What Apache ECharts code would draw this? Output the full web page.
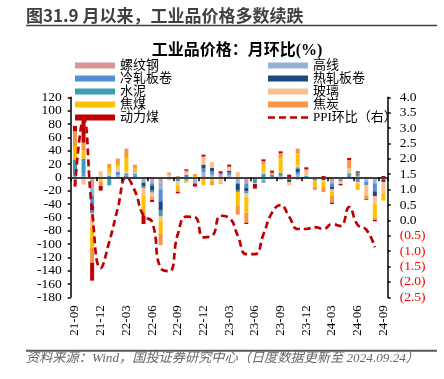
<!DOCTYPE html>
<html><head><meta charset="utf-8">
<script src="https://cdn.jsdelivr.net/npm/echarts/dist/echarts.min.js"></script>
<style>html,body{margin:0;padding:0;background:#fff;}#c{width:444px;height:379px;}</style>
</head><body><div id="c"></div>
<script>
var categories = ['21-09','21-10','21-11','21-12','22-01','22-02','22-03','22-04','22-05','22-06','22-07','22-08','22-09','22-10','22-11','22-12','23-01','23-02','23-03','23-04','23-05','23-06','23-07','23-08','23-09','23-10','23-11','23-12','24-01','24-02','24-03','24-04','24-05','24-06','24-07','24-08','24-09'];
var rebar    = [0,0,-15,-3,0,0,0,0,-4,-5,-8,1,2,0,-4,2,1,2,0,0,-7,0,0,0,0,0,0,0,0,0,-6,0,0,-2,-3,-2,0];
var wireRod  = [2,2,-12,1,0,3,0,-2,-4,-4,-10,0,-2,-3,-4,6,3,2,3,-8,-2,-2,-5,0,2,-2,4,0,0,0,-3,-3,0,2,-4,-7,0];
var coldRoll = [3,4,-15,0,2,2,3,3,0,-4,-18,0,0,-2,-2,5,5,2,4,-2,-7,0,-3,4,3,-2,4,0,0,0,-5,-3,3,-5,-5,-12,-3];
var hotRoll  = [0,0,-8,0,0,0,0,0,-5,-6,-14,0,0,0,0,6,5,0,3,-10,-5,0,0,0,0,-3,5,-2,0,-4,-4,0,-2,0,0,-7,-4];
var cement   = [22,22,-4,0,-12,3,3,2,-3,-4,-8,0,-4,4,0,0,0,0,0,-2,-3,-7,5,0,2,0,2,2,-5,0,0,0,3,5,0,0,0];
var glass    = [-13,-11,-22,8,5,8,3,3,-12,-6,-7,3,-5,4,0,12,9,-8,6,8,-5,-1,4,-3,-4,-5,3,8,-1,-3,-4,-4,8,-2,-15,-12,-17];
var cokingCoal = [20,12,-30,-4,7,4,20,5,-22,0,-19,0,-7,-3,2,-12,-6,-2,0,-20,-24,0,10,0,22,0,18,0,-8,-9,-6,0,0,-10,0,-20,-11];
var coke     = [22,12,-22,-6,6,8,14,6,-8,-5,-18,3,-4,2,3,0,-6,0,0,-14,-15,0,5,3,7,0,7,2,-5,-6,-10,0,12,0,-6,-4,0];
var thermalCoal = [8,36,-27,-7,0,-2,0,0,-12,-3,0,-3,-2,2,-4,3,0,3,3,0,-2,-7,3,3,3,4,-3,3,0,2,-2,-2,3,2,-1,-2,2];
var ppiMoM   = [1.1,3.3,0.3,-1.55,-0.7,0.4,1.4,0.95,0.15,-0.05,-1.55,-1.65,-0.45,0.12,0.1,-0.55,-0.5,0.15,0.08,-0.5,-1.1,-1.1,-0.45,0.25,0.5,0.12,-0.28,-0.28,-0.22,-0.28,-0.12,-0.18,0.43,-0.15,-0.3,-0.88,null];

var seriesNames = ['螺纹钢','高线','冷轧板卷','热轧板卷','水泥','玻璃','焦煤','焦炭','动力煤'];
var seriesData = [rebar, wireRod, coldRoll, hotRoll, cement, glass, cokingCoal, coke, thermalCoal];
var seriesColors = ['#D99694','#95B3D7','#558ED5','#1F497D','#3E9DB6','#FAC090','#FFC000','#F79646','#C00000'];
var lineName = 'PPI环比（右）';

var serif = '"Liberation Serif","Times New Roman","Noto Sans CJK SC",serif';
var chart = echarts.init(document.getElementById('c'), null, {renderer:'canvas'});
var series = seriesNames.map(function(n,i){
  return {name:n, type:'bar', stack:'all', data:seriesData[i], barWidth:4,
    itemStyle:{color:seriesColors[i]}, emphasis:{disabled:true}, xAxisIndex:0, yAxisIndex:0};
});
series.push({name:lineName, type:'line', data:ppiMoM, yAxisIndex:1, xAxisIndex:0, smooth:true,
  symbol:'none', lineStyle:{color:'#C00000', width:2.7, type:[7,4]}, itemStyle:{color:'#C00000'}, z:5});

var dashIcon = 'path://M0,0H7V2.6H0Z M11,0H18V2.6H11Z M22,0H29V2.6H22Z M33,0H40V2.6H33Z';
var legendText = {fontSize:13, lineHeight:13, color:'#000', fontFamily:serif, padding:[3,0,0,0]};
chart.setOption({
  animation:false,
  grid:{left:70.7, right:56.3, top:97.3, bottom:81.7, containLabel:false, outerBoundsMode:'none'},
  legend:[
    {data:['螺纹钢','冷轧板卷','水泥','焦煤','动力煤'], orient:'vertical', left:75, top:57.5, itemGap:-3,
     itemWidth:40, itemHeight:6, icon:'rect', padding:0, textStyle:legendText, selectedMode:false, z:10},
    {data:[{name:'高线',icon:'rect'},{name:'热轧板卷',icon:'rect'},{name:'玻璃',icon:'rect'},{name:'焦炭',icon:'rect'},
           {name:lineName, icon:dashIcon, itemStyle:{color:'#C00000'}}],
     orient:'vertical', left:268, top:57.5, itemGap:-3,
     itemWidth:40, itemHeight:6, padding:0, textStyle:legendText, selectedMode:false, z:10}
  ],
  xAxis:[
    {type:'category', data:categories, position:'bottom',
     axisLine:{show:false, onZero:false}, axisTick:{show:false}, splitLine:{show:false},
     axisLabel:{interval:2, rotate:90, margin:8, fontSize:13, color:'#000', fontFamily:serif}},
    {type:'category', data:categories, position:'bottom', z:6,
     axisLine:{show:true, onZero:true, onZeroAxisIndex:0, lineStyle:{color:'#404040', width:2}},
     axisTick:{show:true, interval:2, length:4, inside:false, lineStyle:{color:'#000', width:1.5}},
     axisLabel:{show:false}, splitLine:{show:false}}
  ],
  yAxis:[
    {type:'value', min:-180, max:120, interval:20, position:'left',
     axisLine:{show:true, lineStyle:{color:'#000', width:1.5}},
     axisTick:{show:true, length:3, inside:false, lineStyle:{color:'#000', width:1.5}},
     splitLine:{show:false},
     axisLabel:{margin:9, fontSize:13.5, color:'#000', fontFamily:serif}},
    {type:'value', min:-2.5, max:4.0, interval:0.5, position:'right',
     axisLine:{show:true, lineStyle:{color:'#000', width:1.5}},
     axisTick:{show:true, length:3, inside:false, lineStyle:{color:'#000', width:1.5}},
     splitLine:{show:false},
     axisLabel:{margin:12, fontSize:13.5, fontFamily:serif,
       formatter:function(v){ v=Number(v); return v<0 ? '('+Math.abs(v).toFixed(1)+')' : v.toFixed(1); },
       color:function(v){ return Number(v)<0 ? '#FF0000' : '#000'; }}}
  ],
  graphic:[
    {type:'text', left:26, top:7, style:{text:'图31.9 月以来，工业品价格多数续跌', fontSize:17, fontWeight:'bold',
      fill:'#404040', fontFamily:'"Noto Sans CJK SC",sans-serif'}},
    {type:'line', shape:{x1:26, y1:25.5, x2:437, y2:25.5}, style:{stroke:'#404040', lineWidth:1.5}},
    {type:'text', x:237, y:51, style:{text:'工业品价格：月环比(%)', fontSize:16, fontWeight:'bold', fill:'#000',
      align:'center', verticalAlign:'middle', fontFamily:serif}},
    {type:'line', shape:{x1:26, y1:350.7, x2:437, y2:350.7}, style:{stroke:'#595959', lineWidth:2}},
    {type:'text', x:26, y:358.5, style:{text:'资料来源：Wind，国投证券研究中心（日度数据更新至 2024.09.24）', fontSize:13.2,
      fontStyle:'italic', fill:'#666', verticalAlign:'middle', fontFamily:serif}}
  ],
  series:series
});
</script></body></html>
